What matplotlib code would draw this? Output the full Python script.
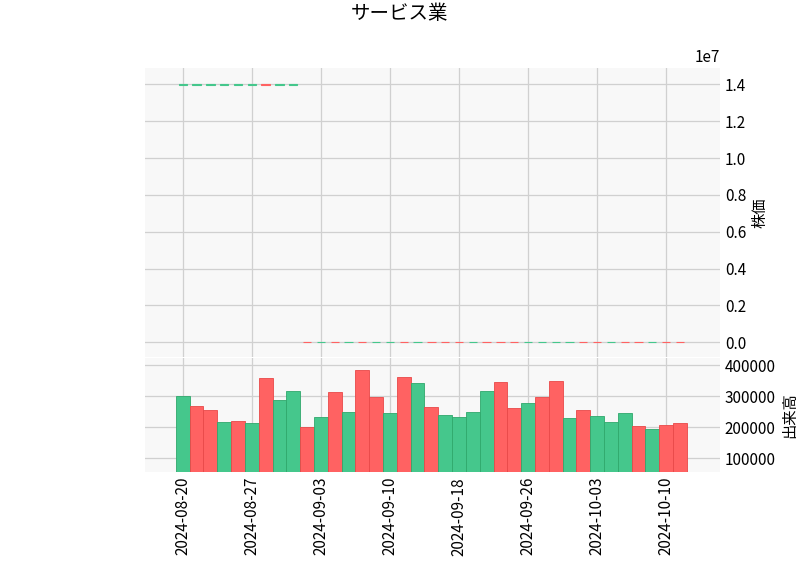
import matplotlib
matplotlib.use("Agg")
import matplotlib.pyplot as plt
import numpy as np

plt.rcParams['font.family'] = ['Noto Sans CJK JP', 'DejaVu Sans']

dates = ["2024-08-20","2024-08-21","2024-08-22","2024-08-23","2024-08-26","2024-08-27","2024-08-28","2024-08-29","2024-08-30",
         "2024-09-02","2024-09-03","2024-09-04","2024-09-05","2024-09-06","2024-09-09","2024-09-10","2024-09-11","2024-09-12","2024-09-13",
         "2024-09-17","2024-09-18","2024-09-19","2024-09-20","2024-09-24","2024-09-25","2024-09-26","2024-09-27","2024-09-30",
         "2024-10-01","2024-10-02","2024-10-03","2024-10-04","2024-10-07","2024-10-08","2024-10-09","2024-10-10","2024-10-11"]
# candle direction: 1 up (green), 0 down (red)
up = [1,1,1,1,1,1,0,1,1,
      0,1,0,1,0,1,1,0,1,0,0,0,1,0,0,0,1,1,1,1,0,0,1,0,0,1,0,0]
price_level = [14000000]*9 + [3000]*28
volume = [301000,269000,256000,218000,221000,212000,358000,288000,317000,199000,231000,314000,250000,384000,298000,
          244000,362000,343000,266000,240000,231000,250000,317000,346000,263000,279000,298000,349000,228000,256000,
          237000,215000,247000,202000,193000,208000,212000]
vol_up = [1,0,0,1,0,1,0,1,1,0,1,0,1,0,0,1,0,1,0,1,1,1,1,0,0,1,0,0,1,0,1,1,1,0,1,0,0]

GREEN = "#45c78c"
RED = "#ff6262"
BG = "#f8f8f8"
x = np.arange(len(dates))

fig = plt.figure(figsize=(8, 5.75), dpi=100)
ax = fig.add_axes([0.181, 0.379, 0.719, 0.503])
axv = fig.add_axes([0.181, 0.179, 0.719, 0.198], sharex=ax)

for a in (ax, axv):
    a.set_facecolor(BG)
    a.grid(True, color="#d0d0d0", linewidth=0.9)
    a.set_axisbelow(True)
    for s in a.spines.values():
        s.set_visible(False)
    a.yaxis.tick_right()
    a.yaxis.set_label_position("right")
    a.tick_params(length=0, labelsize=11)

pc = [GREEN if u else RED for u in up]
ax.bar(x, [20000]*len(x), bottom=np.array(price_level) - 10000, width=0.6,
       color=pc, edgecolor=pc, linewidth=0.8)
ax.set_ylim(-800000, 14900000)
ax.set_ylabel("株価", fontsize=11)
ax.text(1.0, 1.005, "1e7", transform=ax.transAxes, ha="right", va="bottom", fontsize=11)
ax.set_yticks(np.arange(0, 1.41e7, 0.2e7))
ax.set_yticklabels([f"{v:.1f}" for v in np.arange(0, 1.41, 0.2)])
plt.setp(ax.get_xticklabels(), visible=False)

vc = [GREEN if u else RED for u in vol_up]
axv.bar(x, volume, width=1.0, color=vc, edgecolor=["#2fa86c" if u else "#e84848" for u in vol_up], linewidth=0.6)
axv.set_ylim(55000, 422000)
axv.set_yticks([100000, 200000, 300000, 400000])
axv.set_ylabel("出来高", fontsize=11)
axv.set_xlim(-2.75, 38.9)
ticks = list(range(0, len(dates), 5))
axv.set_xticks(ticks)
axv.set_xticklabels([dates[i] for i in ticks], rotation=90)

fig.suptitle("サービス業", fontsize=14, y=0.995)
fig.savefig("out.png", dpi=100, facecolor="white")
